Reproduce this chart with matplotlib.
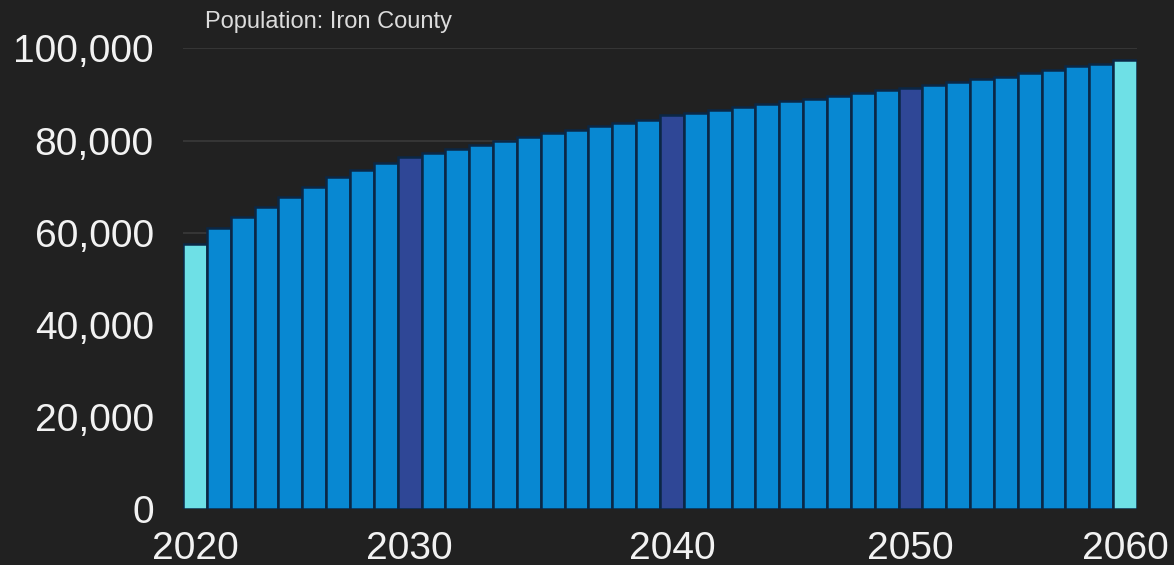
import matplotlib.pyplot as plt
import numpy as np

plt.rcParams['font.family'] = ['Liberation Sans', 'DejaVu Sans']

# one bar per projection step
population = [57500, 61000, 63400, 65500, 67800, 70000, 72000, 73700, 75200, 76500,
              77400, 78200, 79100, 80000, 80800, 81600, 82400, 83200, 83900, 84500,
              85500, 86000, 86700, 87300, 88000, 88600, 89100, 89700, 90300, 90900,
              91500, 92100, 92700, 93300, 93900, 94700, 95300, 96100, 96700, 97500]
bar_kind = ["end"] + ["mid"] * 8 + ["decade"] + ["mid"] * 10 + ["decade"] + ["mid"] * 9 + \
           ["decade"] + ["mid"] * 8 + ["end"]
tick_bars = [0, 9, 20, 30, 39]
tick_labels = ["2020", "2030", "2040", "2050", "2060"]
y_ticks = [0, 20000, 40000, 60000, 80000, 100000]

bg = '#212121'
kind_colors = {"end": '#6ee0e6', "mid": '#0888d2', "decade": '#2f4796'}

fig = plt.figure(figsize=(11.74, 5.65), dpi=100, facecolor=bg)
ax = fig.add_axes([0.1559, 0.0991, 0.8126, 0.8151])
ax.set_facecolor(bg)

x = np.arange(len(population))
colors = [kind_colors[k] for k in bar_kind]
ax.bar(x, population, width=1.0, color=colors, edgecolor='#0b2745', linewidth=1.8, zorder=2)

ax.set_xlim(-0.5, len(population) - 0.5)
ax.set_ylim(0, 100000)
ax.set_yticks(y_ticks)
ax.set_yticklabels([f"{v:,}" for v in y_ticks])
ax.set_xticks(tick_bars)
ax.set_xticklabels(tick_labels)
ax.tick_params(axis='y', length=0, pad=21, labelsize=28, labelcolor='#f2f2f2')
ax.tick_params(axis='x', length=0, pad=16, labelsize=28, labelcolor='#f2f2f2')
ax.grid(axis='y', color='#3a3a3a', linewidth=1.2, zorder=0)
ax.set_axisbelow(True)
for s in ax.spines.values():
    s.set_visible(False)

fig.text(205 / 1174, 0.95, "Population: Iron County", fontsize=17, color='#dcdcdc',
         ha='left', va='baseline')

fig.savefig('out.png', dpi=100, facecolor=bg)
